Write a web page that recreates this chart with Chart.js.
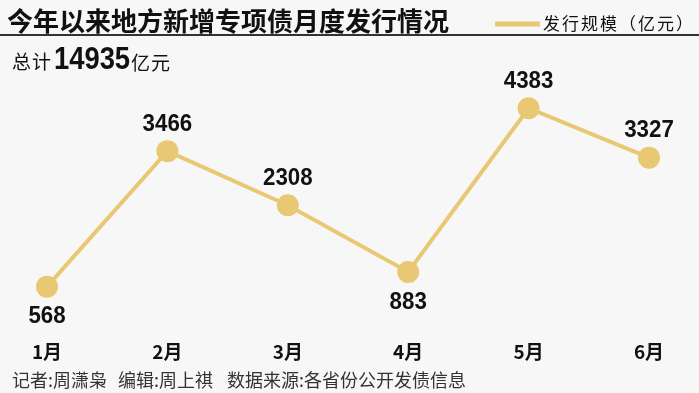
<!DOCTYPE html>
<html>
<head>
<meta charset="utf-8">
<script src="https://cdn.jsdelivr.net/npm/chart.js@4"></script>
<style>
    html, body { margin: 0; padding: 0; background: #f7f7f7; }
    canvas { display: block; }
</style>
</head>
<body>
<canvas id="bondChart" width="699" height="393"></canvas>
<script>
// Chart data
const months = ["1月", "2月", "3月", "4月", "5月", "6月"];
const issuance = [568, 3466, 2308, 883, 4383, 3327];
const totalIssuance = "14935";

const titleText = "今年以来地方新增专项债月度发行情况";
const legendText = "发行规模（亿元）";
const footerParts = ["记者:周潇枭", "编辑:周上祺", "数据来源:各省份公开发债信息"];

const gold = "#e9c874";
const cjk = '"Noto Sans CJK SC", "Noto Sans", sans-serif';
const latin = '"Liberation Sans", Arial, sans-serif';

function widthOf(ctx, text, size) {
    ctx.save();
    ctx.font = "bold " + size + "px " + latin;
    const w = ctx.measureText(text).width;
    ctx.restore();
    return w;
}

// numbers in the reference use a slightly condensed bold face
function drawNumber(ctx, text, x, y, size, squeeze) {
    ctx.save();
    ctx.font = "bold " + size + "px " + latin;
    ctx.translate(x, y);
    ctx.scale(squeeze, 1);
    ctx.fillText(text, 0, 0);
    ctx.restore();
    return widthOf(ctx, text, size) * squeeze;
}

// Draws the background, titles, value labels and footer around the line
const decorations = {
    id: "decorations",
    beforeDraw(chart) {
        const ctx = chart.ctx;
        ctx.save();
        ctx.fillStyle = "#f7f7f7";
        ctx.fillRect(0, 0, chart.width, chart.height);
        ctx.restore();
    },
    afterDraw(chart) {
        const ctx = chart.ctx;
        const area = chart.chartArea;
        ctx.save();
        ctx.textBaseline = "middle";

        // title + rule
        ctx.fillStyle = "#111";
        ctx.font = "bold 26px " + cjk;
        ctx.fillText(titleText, 7, 21);
        ctx.fillStyle = "#333";
        ctx.fillRect(0, 34, chart.width, 2);

        // legend
        ctx.strokeStyle = gold;
        ctx.lineWidth = 5;
        ctx.beginPath();
        ctx.moveTo(495, 24);
        ctx.lineTo(540, 24);
        ctx.stroke();
        ctx.fillStyle = "#111";
        ctx.font = "17px " + cjk;
        ctx.letterSpacing = "2px";
        ctx.fillText(legendText, 543, 24);

        // total
        ctx.font = "19px " + cjk;
        ctx.letterSpacing = "1px";
        ctx.fillText("总计", 12, 62);
        ctx.letterSpacing = "0px";
        const w = drawNumber(ctx, totalIssuance, 54, 60, 32, 0.855);
        ctx.font = "19px " + cjk;
        ctx.letterSpacing = "1px";
        ctx.fillText("亿元", 54 + w + 1, 63);
        ctx.letterSpacing = "0px";

        // value labels: under points near the bottom, above the rest
        const meta = chart.getDatasetMeta(0);
        ctx.fillStyle = "#111";
        meta.data.forEach((pt, i) => {
            const text = String(issuance[i]);
            const below = pt.y > area.top + area.height * 0.7;
            const lw = widthOf(ctx, text, 24) * 0.93;
            drawNumber(ctx, text, pt.x - lw / 2, below ? pt.y + 30 : pt.y - 27, 24, 0.93);
        });

        // footer
        ctx.font = "18px " + cjk;
        ctx.fillStyle = "#333";
        ctx.fillText(footerParts[0], 12, 380);
        ctx.fillText(footerParts[1], 118, 380);
        ctx.fillText(footerParts[2], 227, 380);
        ctx.restore();
    },
};

const ctx = document.getElementById("bondChart").getContext("2d");
new Chart(ctx, {
    type: "line",
    data: {
        labels: months,
        datasets: [
            {
                label: legendText,
                data: issuance,
                borderColor: gold,
                backgroundColor: gold,
                borderWidth: 4,
                pointRadius: 11,
                pointBackgroundColor: gold,
                pointBorderWidth: 0,
                tension: 0,
                fill: false,
            },
        ],
    },
    options: {
        responsive: false,
        animation: false,
        devicePixelRatio: 1,
        layout: {
            padding: { top: 42, left: 47, right: 50, bottom: 3 },
        },
        plugins: {
            legend: { display: false },
            tooltip: { enabled: false },
        },
        scales: {
            x: {
                offset: false,
                grid: { display: false, drawTicks: false },
                border: { display: false },
                ticks: {
                    padding: 27,
                    color: "#111",
                    font: { family: cjk, size: 19, weight: "bold" },
                },
            },
            y: {
                display: false,
                min: 0,
                max: 5800,
            },
        },
    },
    plugins: [decorations],
});
</script>
</body>
</html>
